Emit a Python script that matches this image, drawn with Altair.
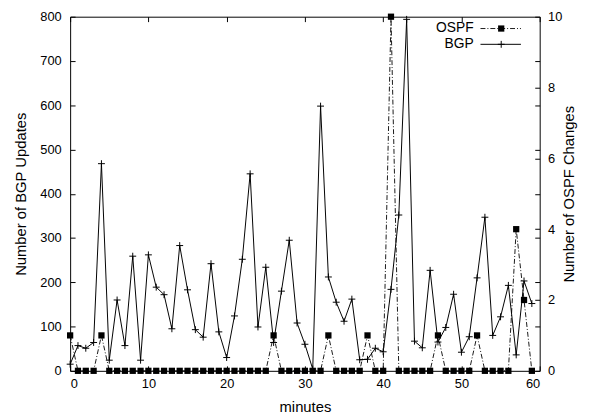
import altair as alt
import pandas as pd

# ---- data ----
minutes = list(range(60))
bgp_updates = [15, 57, 51, 64, 468, 24, 160, 57, 259, 24,
               262, 189, 172, 95, 283, 183, 93, 76, 242, 88,
               30, 124, 252, 445, 99, 234, 64, 180, 295, 108,
               60, 4, 598, 212, 155, 112, 162, 25, 26, 51,
               43, 184, 352, 794, 67, 52, 227, 65, 98, 173,
               42, 77, 210, 347, 80, 122, 193, 36, 203, 152]
ospf_changes = [1, 0, 0, 0, 1, 0, 0, 0, 0, 0,
                0, 0, 0, 0, 0, 0, 0, 0, 0, 0,
                0, 0, 0, 0, 0, 0, 1, 0, 0, 0,
                0, 0, 0, 1, 0, 0, 0, 0, 1, 0,
                0, 10, 0, 0, 0, 0, 0, 1, 0, 0,
                0, 0, 1, 0, 0, 0, 0, 4, 2, 0]
x_ticks = [0, 10, 20, 30, 40, 50, 60]
bgp_ticks = [0, 100, 200, 300, 400, 500, 600, 700, 800]
ospf_ticks = [0, 2, 4, 6, 8, 10]
legend_labels = ["OSPF", "BGP"]

BGP_MAX, OSPF_MAX = 800, 10
# right axis: its own ticks plus the mirrored left-axis ticks
right_tick_values = sorted(set(ospf_ticks + [v * OSPF_MAX / BGP_MAX for v in bgp_ticks]))

df = pd.DataFrame({"minute": minutes, "bgp": bgp_updates, "ospf": ospf_changes})

W, H = 476, 359
FONT = "Liberation Sans"
PLUS = "M-1,0L1,0M0,-1L0,1"
LBL, TTL = 13, 15

x_scale = alt.Scale(domain=[0, 60], nice=False, zero=False)

x_bottom = alt.X(
    "minute:Q", scale=x_scale,
    axis=alt.Axis(orient="bottom", values=x_ticks, title="minutes", format="d",
                  offset=-5, tickSize=5, domain=False, grid=False,
                  labelPadding=7, titlePadding=9),
)
x_top = alt.X(
    "minute:Q", scale=x_scale,
    axis=alt.Axis(orient="top", values=x_ticks, title=None, labels=False,
                  offset=-5, tickSize=5, domain=False, grid=False),
)

y_bgp = alt.Y(
    "bgp:Q", scale=alt.Scale(domain=[0, BGP_MAX], nice=False),
    axis=alt.Axis(orient="left", values=bgp_ticks, title="Number of BGP Updates",
                  offset=-5, tickSize=5, domain=False, grid=False,
                  labelPadding=9, titlePadding=12),
)
y_ospf = alt.Y(
    "ospf:Q", scale=alt.Scale(domain=[0, OSPF_MAX], nice=False),
    axis=alt.Axis(orient="right", values=right_tick_values, title="Number of OSPF Changes",
                  labelExpr="datum.value % 2 === 0 ? datum.label : ''",
                  labelOverlap=False, offset=-5, tickSize=5, domain=False, grid=False,
                  labelPadding=8, titlePadding=15, titleAngle=270),
)

base = alt.Chart(df)

ospf_line = base.mark_line(color="black", strokeWidth=0.9, strokeDash=[5, 2, 1, 2]).encode(
    x=x_top, y=y_ospf)
ospf_pts = base.mark_point(shape="square", size=40, filled=True, color="black",
                           opacity=1, strokeWidth=0).encode(x=x_top, y=y_ospf)
ospf_layer = alt.layer(ospf_line, ospf_pts)

bgp_line = base.mark_line(color="black", strokeWidth=1).encode(x=x_bottom, y=y_bgp)
bgp_pts = base.mark_point(shape=PLUS, size=49, filled=False, color="black",
                          opacity=1, strokeWidth=1).encode(x=x_bottom, y=y_bgp)
bgp_layer = alt.layer(bgp_line, bgp_pts)

# legend (top right, gnuplot style)
leg_df = pd.DataFrame({"label": legend_labels})
leg_o = alt.Chart(leg_df).transform_filter("datum.label == 'OSPF'")
leg_b = alt.Chart(leg_df).transform_filter("datum.label == 'BGP'")
leg = alt.layer(
    leg_o.mark_text(align="right", baseline="middle", font=FONT, fontSize=14, color="black").encode(
        text="label:N", x=alt.value(409), y=alt.value(12)),
    leg_o.mark_rule(color="black", strokeWidth=0.9, strokeDash=[5, 2, 1, 2]).encode(
        x=alt.value(416), x2=alt.value(457), y=alt.value(12)),
    leg_o.mark_point(shape="square", size=40, filled=True, color="black", opacity=1, strokeWidth=0).encode(
        x=alt.value(437), y=alt.value(12)),
    leg_b.mark_text(align="right", baseline="middle", font=FONT, fontSize=14, color="black").encode(
        text="label:N", x=alt.value(409), y=alt.value(28)),
    leg_b.mark_rule(color="black", strokeWidth=1).encode(
        x=alt.value(416), x2=alt.value(457), y=alt.value(28)),
    leg_b.mark_point(shape=PLUS, size=49, filled=False, color="black", opacity=1, strokeWidth=1).encode(
        x=alt.value(437), y=alt.value(28)),
)

chart = alt.layer(ospf_layer, bgp_layer, leg).resolve_scale(
    y="independent"
).resolve_axis(
    x="independent", y="independent"
).properties(
    width=W, height=H,
    autosize=alt.AutoSizeParams(type="none"),
    padding={"left": 63, "top": 6, "right": 50, "bottom": 44},
    background="white",
).configure_view(
    stroke="black", strokeWidth=1
).configure_axis(
    labelFont=FONT, titleFont=FONT, labelFontSize=LBL, titleFontSize=TTL,
    titleFontWeight="normal", labelColor="black", titleColor="black",
    tickColor="black", tickWidth=1,
)

chart.save("out.html", embed_options={"renderer": "svg", "actions": False})
